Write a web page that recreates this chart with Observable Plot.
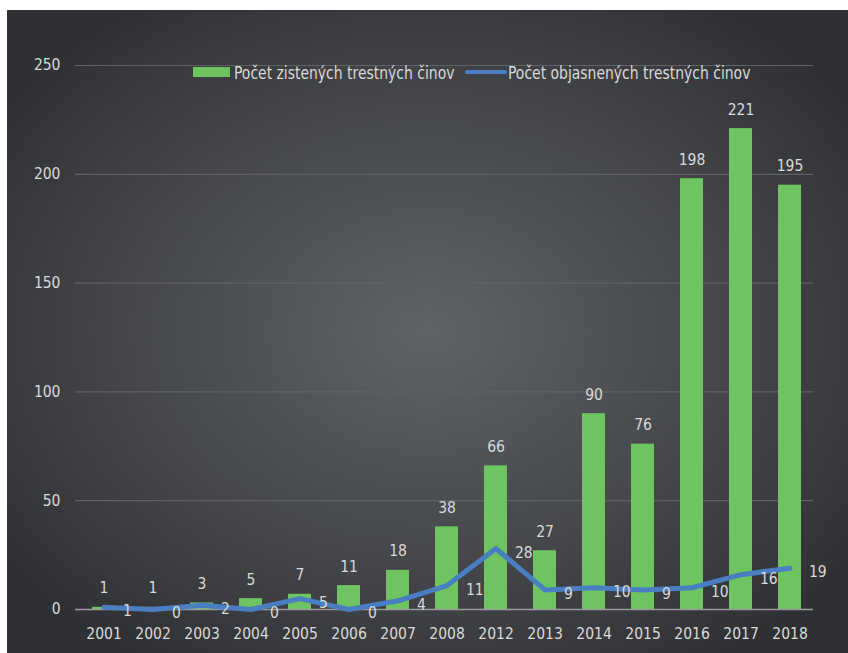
<!DOCTYPE html>
<html>
<head>
<meta charset="utf-8">
<script src="https://cdn.jsdelivr.net/npm/d3@7"></script>
<script src="https://cdn.jsdelivr.net/npm/@observablehq/plot@0.6"></script>
<style>
  html, body { margin: 0; padding: 0; background: #ffffff; }
  body { width: 848px; height: 653px; position: relative; overflow: hidden;
         font-family: "DejaVu Sans Condensed", "Liberation Sans", sans-serif; }
  #panel { position: absolute; left: 7px; top: 10px; width: 841px; height: 643px;
           background: radial-gradient(ellipse 62% 62% at 50% 50%, #5f6266 0%, #46484b 55%, #2f3033 100%); }
  #chart { position: absolute; left: 0; top: 0; }
  .legend { position: absolute; color: #d9d9d9; font-size: 15.5px; white-space: nowrap;
            transform: scale(1, 1.15); transform-origin: left center; }
  .sw { position: absolute; }
</style>
</head>
<body>
<div id="panel">
  <div id="chart"></div>
</div>
<div class="sw" id="sw1" style="left:193px; top:67px; width:37px; height:10px; background:#6cc35f;"></div>
<div class="legend" id="lg1" style="left:234px; top:64px;"></div>
<div class="sw" id="sw2" style="left:465px; top:70px; width:42px; height:4px; border-radius:2px; background:#4a7ec2;"></div>
<div class="legend" id="lg2" style="left:508px; top:64px;"></div>
<script>
const years = ["2001","2002","2003","2004","2005","2006","2007","2008","2012","2013","2014","2015","2016","2017","2018"];
const zistene = [1, 1, 3, 5, 7, 11, 18, 38, 66, 27, 90, 76, 198, 221, 195];
const objasnene = [1, 0, 2, 0, 5, 0, 4, 11, 28, 9, 10, 9, 10, 16, 19];
const yTicks = [0, 50, 100, 150, 200, 250];
const seriesNames = ["Počet zistených trestných činov", "Počet objasnených trestných činov"];

document.getElementById("lg1").textContent = seriesNames[0];
document.getElementById("lg2").textContent = seriesNames[1];

const bars = years.map((y, i) => ({year: y, value: zistene[i]}));
const line = years.map((y, i) => ({year: y, value: objasnene[i]}));

const labelColor = "#d9d9d9";
const fontFam = '"DejaVu Sans Condensed", "Liberation Sans", sans-serif';

const chart = Plot.plot({
  width: 841,
  height: 643,
  marginLeft: 72,
  marginRight: 34,
  marginTop: 55,
  marginBottom: 44,
  style: {background: "transparent", color: labelColor, fontSize: "15.5px", fontFamily: fontFam},
  x: {domain: years, paddingInner: 0.53, paddingOuter: 0.265, label: null, tickSize: 0, tickPadding: 18},
  y: {domain: [0, 250], ticks: yTicks, label: null, tickSize: 0, tickPadding: 19, grid: false},
  marks: [
    Plot.ruleY(yTicks.filter(d => d > 0), {stroke: "#5f6164", strokeWidth: 1.2, insetLeft: -4, insetRight: 1}),
    Plot.barY(bars, {x: "year", y: "value", fill: "#6dc460"}),
    Plot.ruleY([0], {stroke: "#9c9c9c", strokeWidth: 1.5, insetLeft: -4, insetRight: 1}),
    Plot.text(bars, {x: "year", y: "value", text: d => String(d.value), dy: -19, fill: labelColor, fontSize: 15.5}),
    Plot.line(line, {x: "year", y: "value", stroke: "#4a7ec2", strokeWidth: 5, strokeLinejoin: "round", strokeLinecap: "round"}),
    Plot.text(line, {x: "year", y: "value", text: d => String(d.value), textAnchor: "start", dx: 19, dy: 4, fill: labelColor, fontSize: 15.5})
  ]
});
document.getElementById("chart").appendChild(chart);
</script>
</body>
</html>
